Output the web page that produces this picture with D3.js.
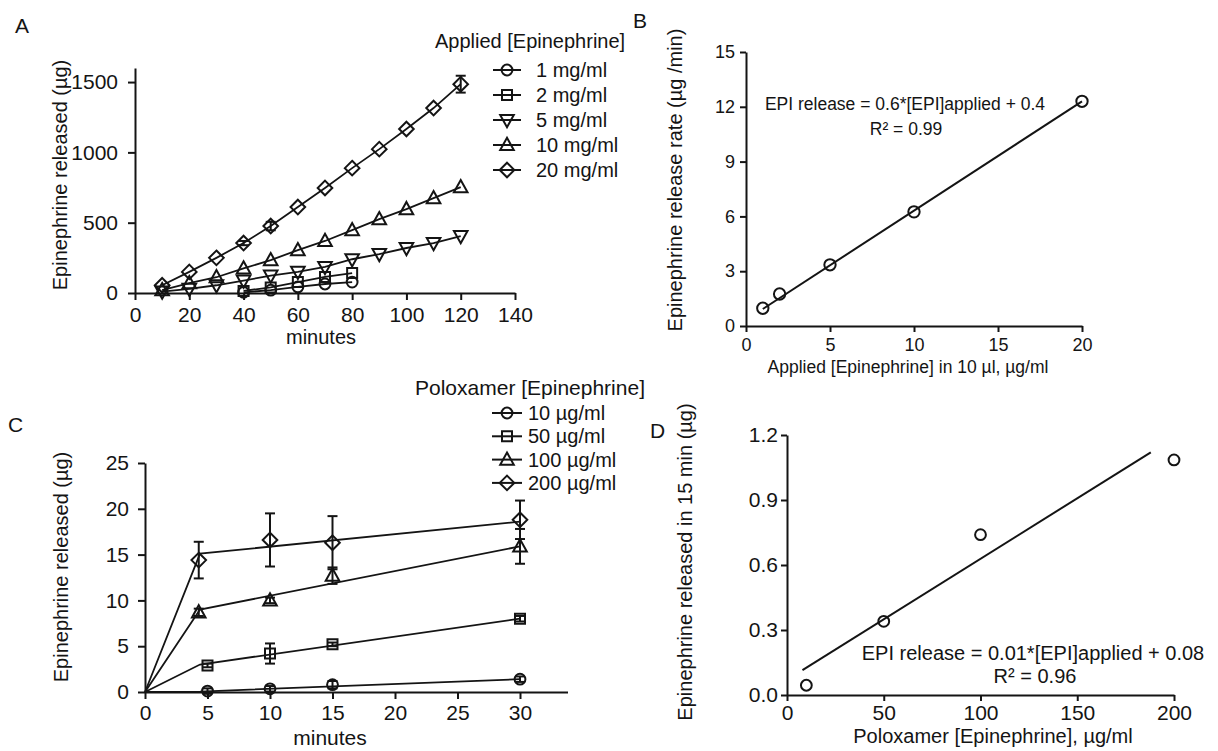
<!DOCTYPE html>
<html>
<head>
<meta charset="utf-8">
<script src="https://cdn.jsdelivr.net/npm/d3@7"></script>
<style>
  body { margin: 0; background: #fff; }
  svg { display: block; font-family: 'Liberation Sans', Arial, sans-serif; }
</style>
</head>
<body>
<div id="container"></div>
<script>
const W = 1218, H = 751;
const INK = "#141414";
const FONT = "'Liberation Sans', Arial, sans-serif";

// Panel A: epinephrine released (ug) vs minutes, by applied concentration
const aTimes = [10, 20, 30, 40, 50, 60, 70, 80, 90, 100, 110, 120];
const aLowTimes = [40, 50, 60, 70, 80];
const a1 = [5, 20, 43, 64, 78];
const a2 = [15, 40, 78, 114, 142];
const a5 = [10, 30, 55, 88, 124, 150, 185, 240, 277, 320, 355, 405];
const a10 = [20, 70, 112, 175, 234, 305, 370, 447, 525, 597, 675, 753];
const a20 = [55, 150, 250, 355, 476, 611, 747, 888, 1023, 1166, 1315, 1485];
const a20Err = [0, 0, 0, 15, 30, 0, 0, 0, 0, 0, 0, 60];
const aLabels = ["1 mg/ml", "2 mg/ml", "5 mg/ml", "10 mg/ml", "20 mg/ml"];
const aShapes = ["circle", "square", "triDown", "triUp", "diamond"];
const aXTicks = [0, 20, 40, 60, 80, 100, 120, 140];
const aYTicks = [0, 500, 1000, 1500];

// Panel B: release rate vs applied concentration
const bConc = [1, 2, 5, 10, 20];
const bRate = [0.97, 1.75, 3.35, 6.25, 12.3];
const bFitX = [1, 20];
const bFitY = [0.93, 12.3];
const bXTicks = [0, 5, 10, 15, 20];
const bYTicks = [0, 3, 6, 9, 12, 15];

// Panel C: poloxamer release vs minutes
const cTimesEarly = [4.3, 10, 15, 30];
const cTimesLate = [5.0, 10, 15, 30];
const c10 = [0.1, 0.35, 0.8, 1.4];
const c10Err = [0.3, 0.3, 0.4, 0.3];
const c50 = [2.9, 4.2, 5.2, 8.0];
const c50Err = [0.2, 1.1, 0.2, 0.3];
const c100 = [8.7, 10.0, 12.7, 15.9];
const c100Err = [0.4, 0.3, 0.9, 1.9];
const c200 = [14.4, 16.6, 16.3, 18.8];
const c200Err = [2.0, 2.9, 2.9, 2.1];
const cLineX = [0, 4.4, 30];
const c10Line = [0, 0.05, 1.4];
const c50Line = [0, 3.0, 8.0];
const c100Line = [0, 9.0, 15.9];
const c200Line = [0, 15.1, 18.6];
const cLabels = ["10 µg/ml", "50 µg/ml", "100 µg/ml", "200 µg/ml"];
const cShapes = ["circle", "square", "triUp", "diamond"];
const cXTicks = [0, 5, 10, 15, 20, 25, 30];
const cYTicks = [0, 5, 10, 15, 20, 25];

// Panel D: released in 15 min vs poloxamer concentration
const dConc = [10, 50, 100, 200];
const dRel = [0.045, 0.34, 0.74, 1.085];
const dFitX = [8, 188];
const dFitY = [0.115, 1.12];
const dXTicks = [0, 50, 100, 150, 200];
const dYTicks = [0, 0.3, 0.6, 0.9, 1.2];

const svg = d3.select("#container").append("svg")
  .attr("width", W).attr("height", H);

function text(x, y, str, size, opts = {}) {
  const t = svg.append("text")
    .attr("x", x).attr("y", y)
    .attr("font-size", size)
    .attr("fill", INK)
    .attr("text-anchor", opts.anchor || "start")
    .text(str);
  if (opts.rotate) t.attr("transform", `rotate(-90,${x},${y})`);
  return t;
}

function shapePath(shape, r) {
  switch (shape) {
    case "circle": return `M${r},0A${r},${r} 0 1,1 ${-r},0A${r},${r} 0 1,1 ${r},0Z`;
    case "square": return `M${-r},${-r}H${r}V${r}H${-r}Z`;
    case "triUp": return `M0,${-r * 1.05}L${r},${r * 0.75}L${-r},${r * 0.75}Z`;
    case "triDown": return `M0,${r * 1.05}L${r},${-r * 0.75}L${-r},${-r * 0.75}Z`;
    default: return `M0,${-r}L${r},0L0,${r}L${-r},0Z`;
  }
}
const shapeR = { circle: 5.4, square: 5, triUp: 6.8, triDown: 6.8, diamond: 7.3 };

function marker(px, py, shape, scale = 1) {
  svg.append("path")
    .attr("d", shapePath(shape, shapeR[shape] * scale))
    .attr("transform", `translate(${px},${py})`)
    .attr("fill", "none")
    .attr("stroke", INK)
    .attr("stroke-width", 2);
}

function polyline(x, y, xs, ys, width = 1.8) {
  svg.append("path")
    .datum(xs.map((v, i) => [v, ys[i]]))
    .attr("fill", "none")
    .attr("stroke", INK)
    .attr("stroke-width", width)
    .attr("d", d3.line().x(d => x(d[0])).y(d => y(d[1])));
}

function errBars(x, y, xs, ys, errs, cap = 5) {
  xs.forEach((v, i) => {
    if (!errs[i]) return;
    const px = x(v), y0 = y(ys[i] - errs[i]), y1 = y(ys[i] + errs[i]);
    const g = svg.append("g").attr("stroke", INK).attr("stroke-width", 2);
    g.append("line").attr("x1", px).attr("x2", px).attr("y1", y0).attr("y2", y1);
    g.append("line").attr("x1", px - cap).attr("x2", px + cap).attr("y1", y0).attr("y2", y0);
    g.append("line").attr("x1", px - cap).attr("x2", px + cap).attr("y1", y1).attr("y2", y1);
  });
}

function axes(x, y, xTicks, yTicks, size, opt) {
  const gx = svg.append("g")
    .attr("transform", `translate(0,${y.range()[0]})`)
    .call(d3.axisBottom(x).tickValues(xTicks).tickSize(opt.tick).tickSizeOuter(0)
      .tickPadding(opt.padX).tickFormat(opt.fmtX || (d => d)));
  const gy = svg.append("g")
    .attr("transform", `translate(${x.range()[0]},0)`)
    .call(d3.axisLeft(y).tickValues(yTicks).tickSize(opt.tick).tickSizeOuter(0)
      .tickPadding(opt.padY).tickFormat(opt.fmtY || (d => d)));
  for (const g of [gx, gy]) {
    g.attr("font-family", FONT).attr("font-size", size);
    g.select(".domain").attr("stroke", INK).attr("stroke-width", 2);
    g.selectAll(".tick line").attr("stroke", INK).attr("stroke-width", 2);
    g.selectAll(".tick text").attr("fill", INK);
  }
}

// ---------------- Panel A ----------------
const xA = d3.scaleLinear().domain([0, 140]).range([135, 515]);
const yA = d3.scaleLinear().domain([0, 1600]).range([293, 68]);
axes(xA, yA, aXTicks, aYTicks, 21, { tick: 7, padX: 7, padY: 10 });

const aSeries = [
  { xs: aLowTimes, ys: a1 },
  { xs: aLowTimes, ys: a2 },
  { xs: aTimes, ys: a5 },
  { xs: aTimes, ys: a10 },
  { xs: aTimes, ys: a20 },
];
aSeries.forEach((s, i) => {
  polyline(xA, yA, s.xs, s.ys);
  s.xs.forEach((v, j) => marker(xA(v), yA(s.ys[j]), aShapes[i]));
});
errBars(xA, yA, aTimes, a20, a20Err, 5);

text(15, 33, "A", 21);
text(67, 175, "Epinephrine released (µg)", 20, { anchor: "middle", rotate: true });
text(321, 344, "minutes", 20, { anchor: "middle" });

text(435, 48, "Applied [Epinephrine]", 20);
aLabels.forEach((lab, i) => {
  const cy = 70 + i * 25;
  svg.append("line").attr("x1", 493).attr("x2", 521).attr("y1", cy).attr("y2", cy)
    .attr("stroke", INK).attr("stroke-width", 2);
  marker(507, cy, aShapes[i]);
  text(536, cy + 7, lab, 20);
});

// ---------------- Panel B ----------------
const xB = d3.scaleLinear().domain([0, 20]).range([746, 1082]);
const yB = d3.scaleLinear().domain([0, 15]).range([326, 52]);
axes(xB, yB, bXTicks, bYTicks, 18, { tick: 6, padX: 6, padY: 5 });
polyline(xB, yB, bFitX, bFitY, 2);
bConc.forEach((v, i) => marker(xB(v), yB(bRate[i]), "circle", 1.05));

text(633, 28, "B", 21);
text(682, 180, "Epinephrine release rate (µg /min)", 20, { anchor: "middle", rotate: true });
text(908, 373, "Applied [Epinephrine] in  10 µl, µg/ml", 17.5, { anchor: "middle" });
text(905, 110, "EPI release = 0.6*[EPI]applied + 0.4", 17.5, { anchor: "middle" });
text(906, 135, "R² = 0.99", 17.5, { anchor: "middle" });

// ---------------- Panel C ----------------
const xC = d3.scaleLinear().domain([0, 33.8]).range([145, 567.5]);
const yC = d3.scaleLinear().domain([0, 25]).range([692, 463]);
axes(xC, yC, cXTicks, cYTicks, 21, { tick: 7, padX: 6, padY: 9 });

const cSeries = [
  { xs: cTimesLate, ys: c10, err: c10Err, line: c10Line },
  { xs: cTimesLate, ys: c50, err: c50Err, line: c50Line },
  { xs: cTimesEarly, ys: c100, err: c100Err, line: c100Line },
  { xs: cTimesEarly, ys: c200, err: c200Err, line: c200Line },
];
cSeries.forEach((s, i) => {
  polyline(xC, yC, cLineX, s.line);
  errBars(xC, yC, s.xs, s.ys, s.err, 5);
  s.xs.forEach((v, j) => marker(xC(v), yC(s.ys[j]), cShapes[i]));
});

text(8, 432, "C", 21);
text(68, 567, "Epinephrine released (µg)", 20, { anchor: "middle", rotate: true });
text(330, 745, "minutes", 21, { anchor: "middle" });

text(415, 395, "Poloxamer [Epinephrine]", 21);
cLabels.forEach((lab, i) => {
  const cy = 413 + i * 23.3;
  svg.append("line").attr("x1", 492).attr("x2", 522).attr("y1", cy).attr("y2", cy)
    .attr("stroke", INK).attr("stroke-width", 2);
  marker(507, cy, cShapes[i]);
  text(528, cy + 7, lab, 20);
});

// ---------------- Panel D ----------------
const xD = d3.scaleLinear().domain([0, 200]).range([787, 1174]);
const yD = d3.scaleLinear().domain([0, 1.2]).range([695, 435]);
axes(xD, yD, dXTicks, dYTicks, 21, { tick: 6, padX: 4, padY: 3, fmtY: d3.format(".1f") });
polyline(xD, yD, dFitX, dFitY, 2);
dConc.forEach((v, i) => marker(xD(v), yD(dRel[i]), "circle"));

text(650, 438, "D", 21);
text(692, 562, "Epinephrine released in  15 min (µg)", 20, { anchor: "middle", rotate: true });
text(993, 743, "Poloxamer [Epinephrine], µg/ml", 20, { anchor: "middle" });
text(1033, 660, "EPI release = 0.01*[EPI]applied + 0.08", 20, { anchor: "middle" });
text(1035, 683, "R² = 0.96", 20, { anchor: "middle" });
</script>
</body>
</html>
